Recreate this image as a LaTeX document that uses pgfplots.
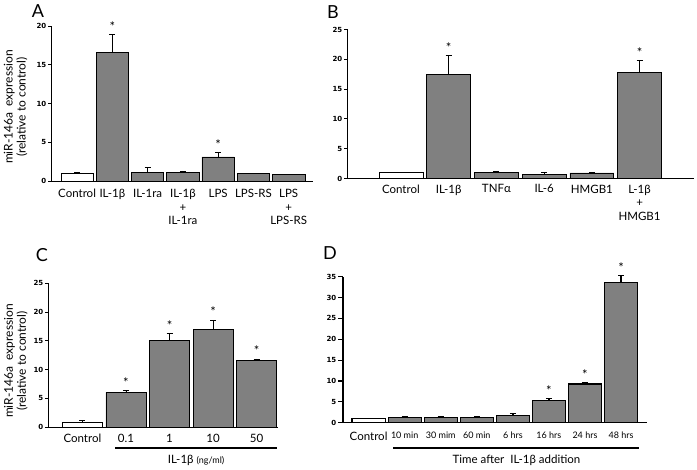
\documentclass[border=0pt]{standalone}
\usepackage{fontspec}
\setmainfont{Lato}
\newfontfamily\tickfont{DejaVu Sans}
\usepackage{pgfplots}
\pgfplotsset{compat=1.18}
\definecolor{bargray}{RGB}{128,128,128}
\tikzset{ylab/.style={font=\fontsize{12}{13}\selectfont, align=center, rotate=90, anchor=center}}
\pgfplotsset{
  panel/.style={
    scale only axis, anchor=south west, clip=false,
    axis x line*=bottom, axis y line*=left,
    axis line style={line width=0.8pt, -},
    ymin=0,
    tick align=outside, major tick length=3pt,
    xtick style={draw=none},
    ytick style={line width=0.8pt, black},
    yticklabel style={font=\tickfont\bfseries\fontsize{7}{8}\selectfont, inner sep=1.5pt},
    /pgf/number format/assume math mode=true,
    xticklabel style={font=\fontsize{11.5}{13.5}\selectfont, align=center, anchor=north, inner sep=0pt},
  },
  gbar/.style={ybar, bar width=0.92, fill=bargray, draw=black, line width=0.7pt,
    error bars/y dir=plus, error bars/y explicit,
    error bars/error bar style={black, line width=0.8pt},
    error bars/error mark options={rotate=90, mark size=3pt, black, line width=0.8pt}},
  wbar/.style={gbar, fill=white},
  stars/.style={draw=none, mark=none, nodes near coords={*},
    every node near coord/.style={anchor=south, inner sep=0pt, font=\fontsize{13}{13}\selectfont, yshift=3pt}},
}
\begin{document}
\begin{tikzpicture}
\path[use as bounding box] (0,0) rectangle (697pt,470pt);
% ---------------- A
\begin{axis}[panel, at={(51pt,289pt)}, width=262pt, height=155pt,
  xmin=-0.74, xmax=6.69, ymax=20, ytick={0,5,...,20},
  xtick={0,...,6},
  xticklabels={Control, IL-1β, IL-1ra, {IL-1β\\+\\IL-1ra}, LPS, LPS-RS, {LPS\\+\\LPS-RS}},
  ylabel={miR-146a\ \ expression\\(relative to control)},
  every axis y label/.style={at={(axis description cs:-0.135,0.477)}, ylab},
  xticklabel style={yshift=-5pt}]
\addplot[wbar] coordinates {(0,1.0) +- (0,0.1)};
\addplot[gbar] coordinates {(1,16.6) +- (0,2.3) (2,1.16) +- (0,0.55) (3,1.1) +- (0,0.2) (4,3.1) +- (0,0.55) (5,0.95) +- (0,0.08) (6,0.82) +- (0,0.08)};
\addplot[stars] coordinates {(1,18.9) (4,3.65)};
\end{axis}
% ---------------- B
\begin{axis}[panel, at={(347pt,291.5pt)}, width=347pt, height=149pt,
  xmin=-1.13, xmax=6.14, ymax=25, ytick={0,5,...,25},
  xtick={0,...,5},
  xticklabels={Control, IL-1β, TNFα, IL-6, HMGB1, {L-1β\\+\\HMGB1}},
  xticklabel style={yshift=-3pt}]
\addplot[wbar] coordinates {(0,0.95) +- (0,0.1)};
\addplot[gbar] coordinates {(1,17.5) +- (0,3.1) (2,1.06) +- (0,0.08) (3,0.72) +- (0,0.3) (4,0.94) +- (0,0.08) (5,17.8) +- (0,1.95)};
\addplot[stars] coordinates {(1,20.6) (5,19.75)};
\end{axis}
% ---------------- C
\begin{axis}[panel, at={(48pt,42.7pt)}, width=230pt, height=144pt,
  xmin=-0.79, xmax=4.49, ymax=25, ytick={0,5,...,25},
  xtick={0,...,4},
  xticklabels={Control, 0.1, 1, 10, 50},
  ylabel={miR-146a\ \ expression\\(relative to control)},
  every axis y label/.style={at={(axis description cs:-0.14,0.46)}, ylab},
  xticklabel style={yshift=-4pt}]
\addplot[wbar] coordinates {(0,0.87) +- (0,0.28)};
\addplot[gbar] coordinates {(1,6.08) +- (0,0.25) (2,15.03) +- (0,1.25) (3,17.0) +- (0,1.6) (4,11.56) +- (0,0.3)};
\addplot[stars] coordinates {(1,6.33) (2,16.28) (3,18.6) (4,11.86)};
\draw[line width=1.6pt] ([yshift=-20.7pt]axis cs:0.75,0) -- ([yshift=-20.7pt]axis cs:4.47,0);
\node[font=\fontsize{11.5}{13}\selectfont] at ([yshift=-33pt]axis cs:2.61,0) {IL-1β {\fontsize{9}{10}\selectfont (ng/ml)}};
\end{axis}
% ---------------- D
\begin{axis}[panel, at={(343pt,47.3pt)}, width=304pt, height=146pt,
  xmin=-0.71, xmax=7.72, ymax=35, ytick={0,5,...,35}, major tick length=5pt,
  axis line style={line width=1.1pt, -},
  ytick style={line width=1.1pt, black},
  xtick={0,...,7},
  xticklabels={Control, {\fontsize{9}{10}\selectfont 10 min}, {\fontsize{9}{10}\selectfont 30 mim}, {\fontsize{9}{10}\selectfont 60 min}, {\fontsize{9}{10}\selectfont 6 hrs}, {\fontsize{9}{10}\selectfont 16 hrs}, {\fontsize{9}{10}\selectfont 24 hrs}, {\fontsize{9}{10}\selectfont 48 hrs}},
  xticklabel style={yshift=-4pt}]
\addplot[wbar, line width=1.1pt, error bars/error bar style={line width=1.3pt}] coordinates {(0,0.9) +- (0,0.2)};
\addplot[gbar, line width=1.1pt, error bars/error bar style={line width=1.3pt}] coordinates {(1,1.3) +- (0,0.2) (2,1.3) +- (0,0.2) (3,1.3) +- (0,0.2) (4,1.68) +- (0,0.5) (5,5.37) +- (0,0.5) (6,9.28) +- (0,0.3) (7,33.6) +- (0,1.6)};
\addplot[stars] coordinates {(5,5.87) (6,9.58) (7,35.2)};
\draw[line width=1.6pt] ([yshift=-25.3pt]axis cs:0.68,0) -- ([yshift=-25.3pt]axis cs:7.51,0);
\node[font=\fontsize{11.5}{13}\selectfont] at ([yshift=-37.3pt]axis cs:4.1,0) {Time after\ \ IL-1β addition};
\end{axis}
% panel letters
\node[font=\fontsize{18}{18}\selectfont] at (38pt,459pt) {A};
\node[font=\fontsize{18}{18}\selectfont] at (333pt,458pt) {B};
\node[font=\fontsize{18}{18}\selectfont] at (42pt,215pt) {C};
\node[font=\fontsize{18}{18}\selectfont] at (330pt,217pt) {D};
\end{tikzpicture}
\end{document}
